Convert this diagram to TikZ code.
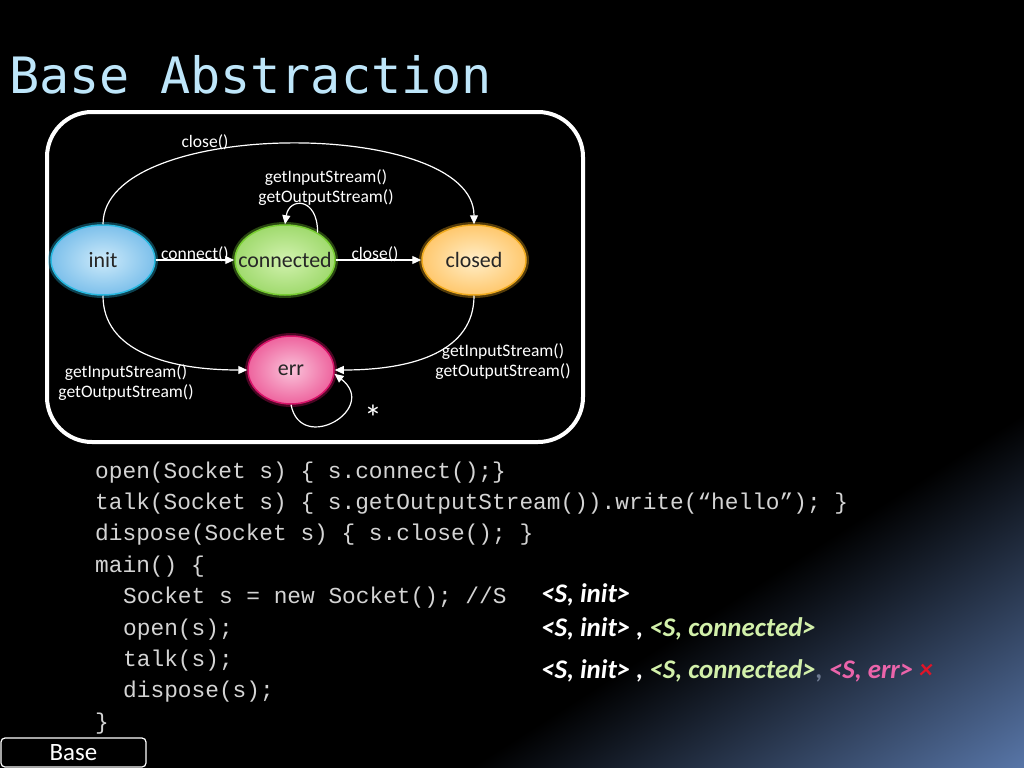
\documentclass[tikz,border=0pt]{standalone}
\usepackage{fontspec}
\setmainfont{Carlito}
\newfontfamily\titlefont{DejaVu Sans Mono}
\newfontfamily\codefont{Liberation Mono}
\usetikzlibrary{arrows.meta,shapes.geometric}
\definecolor{TitleBlue}{RGB}{190,230,250}
\definecolor{CodeGrey}{RGB}{212,212,212}
\definecolor{BgSlate}{RGB}{88,118,168}
\definecolor{InitFill}{RGB}{205,234,250}
\definecolor{InitRim}{RGB}{125,192,235}
\definecolor{InitLine}{RGB}{40,185,225}
\definecolor{ConnFill}{RGB}{210,242,175}
\definecolor{ConnRim}{RGB}{160,218,110}
\definecolor{ConnLine}{RGB}{120,205,50}
\definecolor{ClosFill}{RGB}{255,238,200}
\definecolor{ClosRim}{RGB}{255,200,110}
\definecolor{ClosLine}{RGB}{240,170,30}
\definecolor{ErrFill}{RGB}{250,195,218}
\definecolor{ErrRim}{RGB}{238,100,158}
\definecolor{ErrLine}{RGB}{215,20,105}
\definecolor{TraceGreen}{RGB}{210,240,170}
\definecolor{TracePink}{RGB}{235,100,170}
\definecolor{TraceComma}{RGB}{110,122,145}
\definecolor{TraceCross}{RGB}{225,20,40}

\begin{document}
\begin{tikzpicture}[
    x=1bp,y=-1bp,
    state/.style n args={3}{ellipse,inner sep=0pt,minimum height=70bp,
      shade,inner color=#1,outer color=#2,draw=#3,line width=1.5bp,
      preaction={draw=#3,line width=6bp,opacity=0.35},
      font=\fontsize{22}{26}\selectfont,text=black!85},
    trans/.style={draw=white,line width=1.2bp,
      -{Triangle[length=9bp,width=8bp]}},
    lbl/.style={font=\fontsize{17.6}{20}\selectfont,text=white,
      align=center,inner sep=0pt},
    code/.style={anchor=base west,inner sep=0pt,text=CodeGrey,
      font=\codefont\fontsize{22.9}{26}\selectfont},
    trace/.style={anchor=base west,inner sep=0pt,text=white,
      font=\fontsize{27}{30}\selectfont\bfseries\itshape}
  ]
  \useasboundingbox (0,0) rectangle (1024,768);
  \fill[black] (0,0) rectangle (1024,768);
  \begin{scope}
    \clip (0,0) rectangle (1024,768);
    \begin{scope}[transform canvas={rotate around={-57.4:(0,0)}}]
      \shade[left color=black,right color=BgSlate]
        (900,-1300) rectangle (1200,1300);
    \end{scope}
  \end{scope}

  \node[anchor=base west,inner sep=0pt,text=TitleBlue,
    font=\titlefont\fontsize{50.3}{56}\selectfont] (title) at (9,94)
    {Base Abstraction};

  \draw[white,line width=4bp,rounded corners=45bp]
    (47,112) rectangle (583,442);

  \node[state={InitFill}{InitRim}{InitLine},minimum width=104bp]
    (init) at (103,260) {\makebox[0pt]{init}};
  \node[state={ConnFill}{ConnRim}{ConnLine},minimum width=100bp]
    (connected) at (285,260) {\makebox[0pt]{connected}};
  \node[state={ClosFill}{ClosRim}{ClosLine},minimum width=104bp]
    (closed) at (474,260) {\makebox[0pt]{closed}};
  \node[state={ErrFill}{ErrRim}{ErrLine},minimum width=86bp,
    minimum height=68bp] (err) at (291,370) {\makebox[0pt]{err}};

  \draw[trans] (init) -- (connected);
  \draw[trans] (connected) -- (closed);
  \draw[trans] (init.north) .. controls +(0,-107) and +(0,-107) .. (closed.north);
  \draw[trans] (connected.40) .. controls +(0,-36) and +(4,-27) .. (connected.north);
  \draw[trans] (init.south) .. controls +(0,55) and +(-80,0) .. (err.west);
  \draw[trans] (closed.south) .. controls +(0,55) and +(80,0) .. (err.east);
  \draw[trans] (err.south) .. controls +(10,50) and +(45,35) .. (err.-5);

  \node[lbl] (connectLbl) at (195,254) {connect()};
  \node[lbl] (closeLbl) at (375,254) {close()};
  \node[lbl] (closeTop) at (205,142) {close()};
  \node[lbl] (loopConn) at (326,188) {getInputStream()\\getOutputStream()};
  \node[lbl] (initErr) at (126,383) {getInputStream()\\getOutputStream()};
  \node[lbl] (closedErr) at (503,362) {getInputStream()\\getOutputStream()};
  \node[lbl,font=\fontsize{36}{38}\selectfont] (errStar) at (373,418) {*};

  \foreach \cx/\cline [count=\k] in {
      95/{open(Socket s) \{ s.connect();\}},
      95/{talk(Socket s) \{ s.getOutputStream()).write(“hello”); \}},
      95/{dispose(Socket s) \{ s.close(); \}},
      95/{main() \{},
      123/{Socket s = new Socket(); //S},
      123/{open(s);},
      123/{talk(s);},
      123/{dispose(s);},
      95/{\}}}
    \node[code] (code\k) at (\cx,{478+31.4*(\k-1)}) {\cline};

  \node[trace] (trace1) at (541,602) {<S, init>};
  \node[trace] (trace2) at (541,636)
    {<S, init> , \textcolor{TraceGreen}{<S, connected>}};
  \node[trace] (trace3) at (541,678)
    {<S, init> , \textcolor{TraceGreen}{<S, connected>}\textcolor{TraceComma}{,}
     \textcolor{TracePink}{<S, err>} \textcolor{TraceCross}{×}};

  \node[draw=white,line width=1.2bp,rounded corners=4bp,fill=black,
    minimum width=145bp,minimum height=29bp,inner sep=0pt,text=white,
    font=\fontsize{25}{28}\selectfont] (baseTab) at (73.5,752.5) {Base};
\end{tikzpicture}
\end{document}
